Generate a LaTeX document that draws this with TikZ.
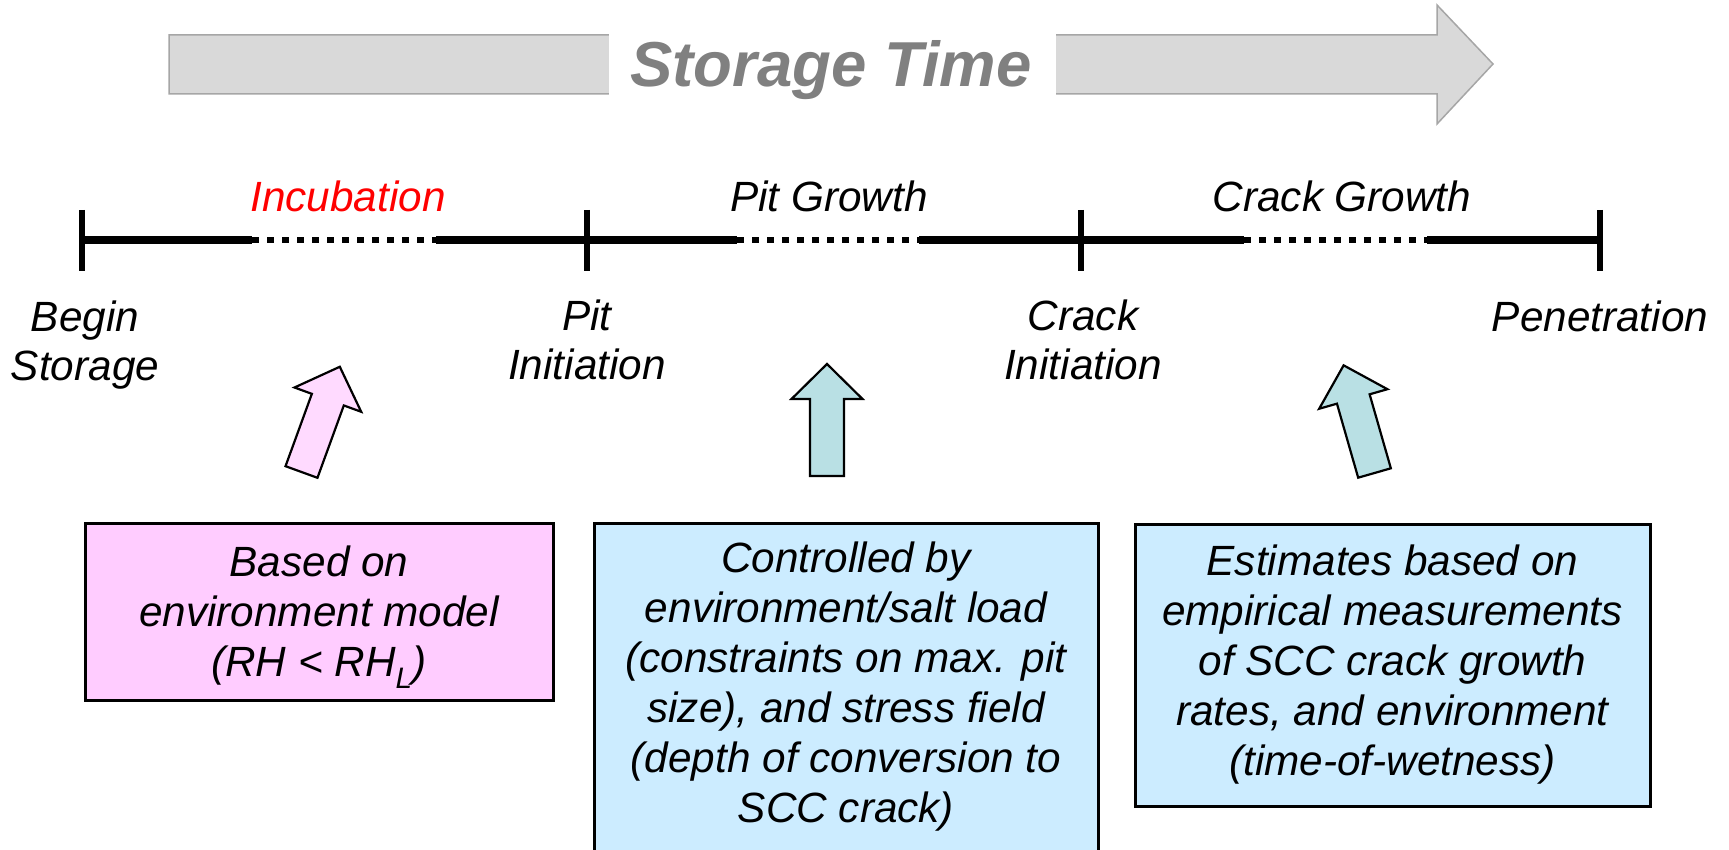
\documentclass[tikz,border=0pt]{standalone}
\usepackage{fontspec}
\setmainfont{Liberation Sans}
\definecolor{arrowgray}{HTML}{D9D9D9}
\definecolor{arrowedge}{HTML}{A6A6A6}
\definecolor{titlegray}{HTML}{808080}
\definecolor{pinkbox}{HTML}{FFCCFF}
\definecolor{pinkarrow}{HTML}{FFDAFF}
\definecolor{bluebox}{HTML}{CCECFF}
\definecolor{tealarrow}{HTML}{B9E0E4}
\begin{document}
\begin{tikzpicture}[x=1pt,y=-1pt,
  lbl/.style={font=\fontsize{42.3pt}{49pt}\selectfont\itshape, inner sep=0pt, align=center},
  infobox/.style={draw=black, line width=3pt, inner sep=0pt, align=center,
    font=\fontsize{42.3pt}{50pt}\selectfont\itshape},
  blockarrow/.style={draw=black, line width=2.2pt, line join=miter},
  solidseg/.style={line width=8.5pt},
  dotseg/.style={line width=6.5pt, dash pattern=on 7pt off 8pt},
  tickmark/.style={line width=6pt}]
\useasboundingbox (0,0) rectangle (1729,850);

% storage time arrow
\draw[fill=arrowgray, draw=arrowedge, line width=1.5pt]
  (169,35) -- (1437,35) -- (1437,5) -- (1493,64) -- (1437,124) -- (1437,94) -- (169,94) -- cycle;
\fill[white] (609,30) rectangle (1056,100);
\node[anchor=base, inner sep=0pt, text=titlegray,
  font=\fontsize{63.5pt}{70pt}\selectfont\bfseries\itshape] (title) at (831,87) {Storage Time};

% timeline
\coordinate (t0) at (82,240);
\coordinate (t1) at (587,240);
\coordinate (t2) at (1081,240);
\coordinate (t3) at (1600,240);
\coordinate (d1a) at (252,240);
\coordinate (d1b) at (436,240);
\coordinate (d2a) at (737,240);
\coordinate (d2b) at (919,240);
\coordinate (d3a) at (1244,240);
\coordinate (d3b) at (1427,240);
\draw[solidseg] (t0) -- (d1a);
\draw[dotseg] (d1a) -- (d1b);
\draw[solidseg] (d1b) -- (d2a);
\draw[dotseg] (d2a) -- (d2b);
\draw[solidseg] (d2b) -- (d3a);
\draw[dotseg] (d3a) -- (d3b);
\draw[solidseg] (d3b) -- (t3);
\foreach \t in {t0,t1,t2,t3}
  \draw[tickmark] ([yshift=30pt]\t) -- ([yshift=-31pt]\t);

% phase labels
\node[lbl, anchor=base, text=red] (inc) at (348,212) {Incubation};
\node[lbl, anchor=base] (pg) at (829,212) {Pit Growth};
\node[lbl, anchor=base] (cg) at (1342,212) {Crack Growth};

% milestone labels
\node[lbl] (bs) at (85,345) {Begin\\Storage};
\node[lbl] (pi) at (587,340) {Pit\\Initiation};
\node[lbl] (ci) at (1083,340) {Crack\\Initiation};
\node[lbl] (pen) at (1600,316) {Penetration};

% block arrows
\begin{scope}[shift={(301.5,472)}, rotate=-20]
\draw[blockarrow, fill=pinkarrow] (-17,0) -- (-17,-77) -- (-35.5,-77) -- (0,-112) -- (35.5,-77) -- (17,-77) -- (17,0) -- cycle;
\end{scope}
\begin{scope}[shift={(827,476)}]
\draw[blockarrow, fill=tealarrow] (-17,0) -- (-17,-77) -- (-35.5,-77) -- (0,-112) -- (35.5,-77) -- (17,-77) -- (17,0) -- cycle;
\end{scope}
\begin{scope}[shift={(1374.5,473)}, rotate=16]
\draw[blockarrow, fill=tealarrow] (-17,0) -- (-17,-77) -- (-35.5,-77) -- (0,-112) -- (35.5,-77) -- (17,-77) -- (17,0) -- cycle;
\end{scope}

% boxes
\node[infobox, fill=pinkbox, minimum width=468pt, minimum height=177pt] (envbox) at (319,611.5)
  {\rule{0pt}{42pt}Based on\\environment model\\(RH < RH\textsubscript{L})};
\node[infobox, fill=bluebox, minimum width=504pt, minimum height=328pt] (pitbox) at (846,687)
  {Controlled by\\environment/salt load\\(constraints on max. pit\\size), and stress field\\(depth of conversion to\\SCC crack)};
\node[infobox, fill=bluebox, minimum width=515pt, minimum height=282pt] (crackbox) at (1392.5,665)
  {Estimates based on\\empirical measurements\\of SCC crack growth\\rates, and environment\\(time-of-wetness)};
\end{tikzpicture}
\end{document}
